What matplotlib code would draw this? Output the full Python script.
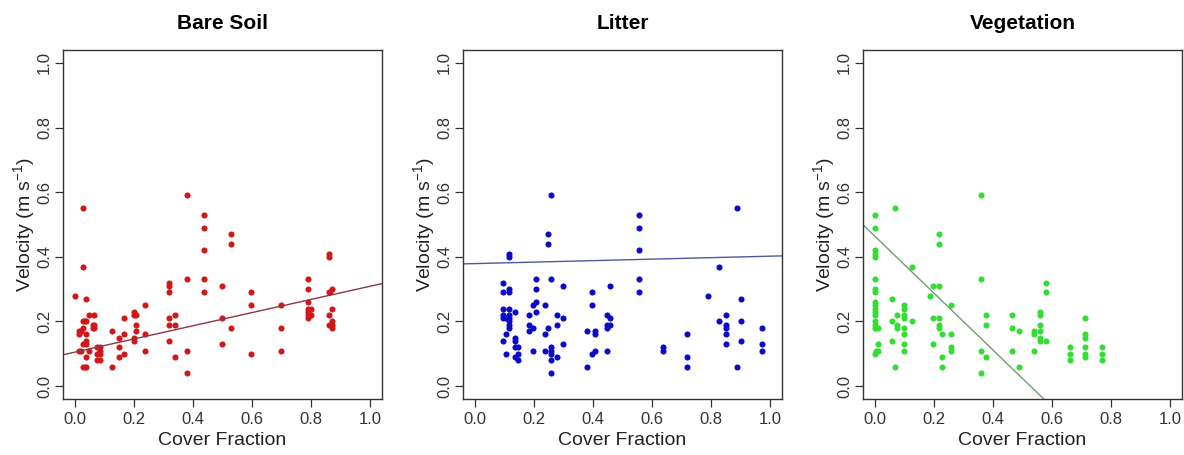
import numpy as np
import matplotlib
matplotlib.use("Agg")
import matplotlib.pyplot as plt

plt.rcParams['font.family'] = ['Liberation Sans', 'DejaVu Sans']
plt.rcParams['mathtext.default'] = 'regular'

# ---- cover fraction vs. velocity, one panel per cover type ----
titles = ["Bare Soil", "Litter", "Vegetation"]

# bare soil
soil_x = [0.00,
          0.014, 0.014, 0.014, 0.02, 0.02,
          0.027, 0.027, 0.027, 0.027, 0.027, 0.027,
          0.033, 0.033,
          0.039, 0.039, 0.039, 0.039, 0.039, 0.039, 0.039,
          0.049, 0.049,
          0.061, 0.061,
          0.066, 0.066, 0.066,
          0.076, 0.076, 0.076,
          0.086, 0.086, 0.086, 0.086,
          0.127, 0.127,
          0.148, 0.148, 0.148,
          0.167, 0.167, 0.167,
          0.199, 0.199, 0.199, 0.199,
          0.207, 0.207, 0.207,
          0.239, 0.239, 0.239,
          0.319, 0.319, 0.319, 0.319, 0.319, 0.319,
          0.339, 0.339, 0.339,
          0.379, 0.379, 0.379, 0.379,
          0.439, 0.439, 0.439, 0.439, 0.439,
          0.50, 0.50, 0.50,
          0.529, 0.529, 0.529,
          0.596, 0.596, 0.596,
          0.697, 0.697, 0.697,
          0.791, 0.791, 0.791, 0.791, 0.791, 0.791, 0.791,
          0.80, 0.80,
          0.859, 0.859, 0.859, 0.859, 0.859,
          0.865,
          0.87, 0.87, 0.87, 0.87, 0.87]
soil_v = [0.28,
          0.17, 0.16, 0.11, 0.11, 0.17,
          0.55, 0.37, 0.20, 0.18, 0.13, 0.06,
          0.20, 0.06,
          0.27, 0.20, 0.16, 0.14, 0.13, 0.09, 0.06,
          0.22, 0.11,
          0.19, 0.18,
          0.22, 0.19, 0.18,
          0.12, 0.10, 0.08,
          0.12, 0.11, 0.10, 0.08,
          0.17, 0.06,
          0.15, 0.12, 0.09,
          0.21, 0.16, 0.10,
          0.23, 0.22, 0.15, 0.14,
          0.22, 0.19, 0.17,
          0.25, 0.16, 0.11,
          0.32, 0.31, 0.29, 0.21, 0.19, 0.14,
          0.22, 0.19, 0.09,
          0.59, 0.33, 0.11, 0.04,
          0.53, 0.49, 0.42, 0.33, 0.29,
          0.31, 0.21, 0.13,
          0.47, 0.44, 0.18,
          0.29, 0.25, 0.10,
          0.25, 0.18, 0.11,
          0.33, 0.30, 0.26, 0.24, 0.23, 0.22, 0.21,
          0.24, 0.22,
          0.41, 0.40, 0.29, 0.22, 0.19,
          0.29,
          0.30, 0.24, 0.20, 0.19, 0.18]

# litter
litter_x = [0.096] * 6 + [0.107] * 3 + [0.117] * 10 + [0.135] * 5 + [0.146] * 3 \
    + [0.185] * 3 + [0.197] * 3 + [0.207] * 4 + [0.237] * 3 + [0.247] * 3 \
    + [0.258] * 7 + [0.279] * 3 + [0.297] * 3 + [0.38] * 2 + [0.398] * 3 \
    + [0.408] * 3 + [0.447] * 4 + [0.458] * 3 + [0.557] * 5 + [0.637] * 2 \
    + [0.719] * 3 + [0.788] + [0.828] * 2 + [0.849] * 5 + [0.889] * 2 \
    + [0.90] * 3 + [0.972] * 3
litter_v = [0.32, 0.29, 0.24, 0.22, 0.21, 0.14,
            0.21, 0.16, 0.10,
            0.41, 0.40, 0.30, 0.29, 0.24, 0.22, 0.21, 0.20, 0.19, 0.18,
            0.23, 0.15, 0.14, 0.12, 0.09,
            0.12, 0.10, 0.08,
            0.22, 0.19, 0.17,
            0.25, 0.18, 0.11,
            0.33, 0.30, 0.26, 0.23,
            0.25, 0.16, 0.11,
            0.47, 0.44, 0.18,
            0.59, 0.33, 0.12, 0.11, 0.10, 0.08, 0.04,
            0.22, 0.19, 0.09,
            0.31, 0.21, 0.13,
            0.17, 0.06,
            0.29, 0.25, 0.10,
            0.17, 0.16, 0.11,
            0.22, 0.19, 0.18, 0.11,
            0.31, 0.21, 0.19,
            0.53, 0.49, 0.42, 0.33, 0.29,
            0.12, 0.11,
            0.16, 0.09, 0.06,
            0.28,
            0.37, 0.20,
            0.22, 0.19, 0.18, 0.16, 0.13,
            0.55, 0.06,
            0.27, 0.20, 0.14,
            0.18, 0.13, 0.11]

# vegetation
veg_x = [0.0] * 17 + [0.004] * 2 + [0.01] * 3 + [0.058] * 3 + [0.069] * 2 \
    + [0.076] * 3 + [0.098] * 8 + [0.126] * 2 + [0.188] + [0.197] * 3 \
    + [0.218] * 6 + [0.228] * 3 + [0.259] * 4 + [0.361] * 4 + [0.378] * 3 \
    + [0.466] * 3 + [0.489] * 2 + [0.539] * 3 + [0.56] * 6 + [0.578] * 3 \
    + [0.661] * 3 + [0.711] * 6 + [0.769] * 3
veg_v = [0.53, 0.49, 0.42, 0.41, 0.40, 0.33, 0.30, 0.29, 0.26, 0.25,
         0.24, 0.23, 0.22, 0.20, 0.19, 0.18, 0.10,
         0.18, 0.11,
         0.18, 0.13, 0.11,
         0.27, 0.20, 0.14,
         0.55, 0.06,
         0.22, 0.19, 0.18,
         0.25, 0.24, 0.22, 0.21, 0.18, 0.16, 0.13, 0.11,
         0.37, 0.20,
         0.28,
         0.31, 0.21, 0.13,
         0.47, 0.44, 0.31, 0.21, 0.19, 0.18,
         0.16, 0.09, 0.06,
         0.25, 0.16, 0.12, 0.11,
         0.59, 0.33, 0.11, 0.04,
         0.22, 0.19, 0.09,
         0.22, 0.18, 0.11,
         0.17, 0.06,
         0.17, 0.16, 0.11,
         0.23, 0.22, 0.19, 0.17, 0.15, 0.14,
         0.32, 0.29, 0.14,
         0.12, 0.10, 0.08,
         0.21, 0.16, 0.15, 0.12, 0.10, 0.09,
         0.12, 0.10, 0.08]

# fitted lines: intercept, slope
fit_intercept = [0.105, 0.379, 0.464]
fit_slope = [0.204, 0.023, -0.881]

point_colors = ["#D01818", "#0A0AC8", "#33DD33"]
line_colors = ["#8E3448", "#4C5A9C", "#6E9E6E"]

xs = [soil_x, litter_x, veg_x]
vs = [soil_v, litter_v, veg_v]

fig = plt.figure(figsize=(11.84, 4.55), dpi=100)
lefts = [63 / 1184, 463 / 1184, 863 / 1184]
ticks = np.arange(0, 1.01, 0.2)

for i in range(3):
    ax = fig.add_axes([lefts[i], 56 / 455, 319 / 1184, 349 / 455])
    ax.plot(xs[i], vs[i], 'o', color=point_colors[i], markersize=4.4,
            markeredgewidth=0)
    xl = np.array([-0.04, 1.04])
    ax.plot(xl, fit_intercept[i] + fit_slope[i] * xl,
            color=line_colors[i], linewidth=1.0)
    ax.set_xlim(-0.04, 1.04)
    ax.set_ylim(-0.04, 1.04)
    ax.set_xticks(ticks)
    ax.set_yticks(ticks)
    ax.set_xticklabels([f"{t:.1f}" for t in ticks])
    ax.set_yticklabels([f"{t:.1f}" for t in ticks], rotation=90, va='center')
    ax.tick_params(length=6, width=0.9, colors='#333333', labelsize=12,
                   labelcolor='#333333', pad=3)
    ax.tick_params(axis='y', pad=2)
    for sp in ax.spines.values():
        sp.set_color('#333333')
        sp.set_linewidth(1.0)
    ax.set_title(titles[i], fontsize=15, fontweight='bold', pad=15)
    ax.set_xlabel("Cover Fraction", fontsize=14, labelpad=4, color='#222222')
    ax.set_ylabel("Velocity (m s$^{-1}$)", fontsize=14, labelpad=0,
                  color='#222222')

fig.savefig("out.png", dpi=100)
